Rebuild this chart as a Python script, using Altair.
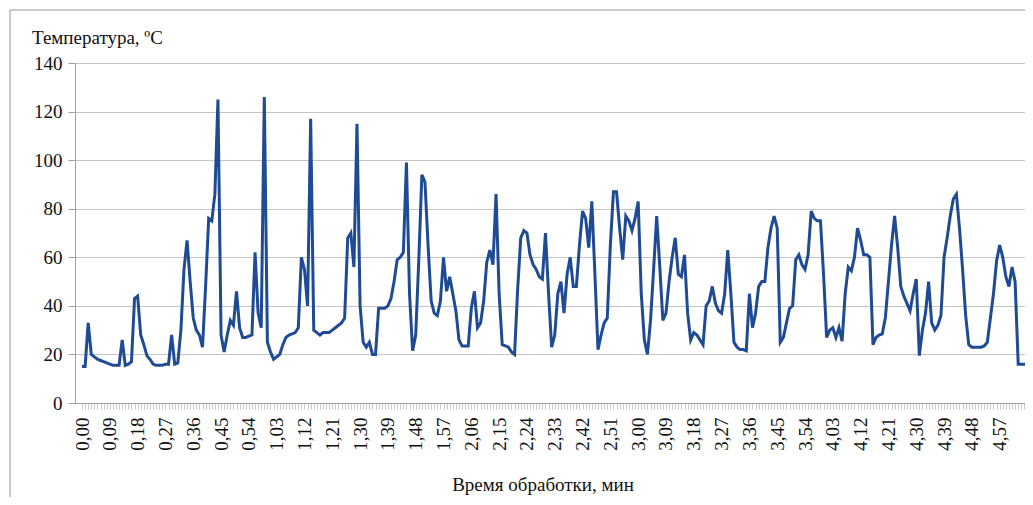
import json
import altair as alt
import pandas as pd

# ---- data (one value per second) ----
seconds = list(range(0, 307))
temperature = [
    15, 15, 33, 20, 19, 18, 17.5, 17, 16.5, 16,
    15.5, 15.5, 15.5, 26, 15.5, 16, 17, 43, 44, 28,
    24, 19.5, 18, 16, 15.5, 15.5, 15.5, 16, 16, 28,
    16, 16.5, 30, 55, 67, 50, 35, 30, 28, 23,
    48, 76, 75, 86, 125, 28, 21, 28, 34, 32,
    46, 31, 27, 27, 27.5, 28, 62, 37, 31, 126,
    25, 21, 18, 19, 20, 24, 27, 28, 28.5, 29,
    31, 60, 55, 40, 117, 30, 29, 28, 29, 29,
    29, 30, 31, 32, 33, 35, 68, 70, 56, 115,
    40, 25, 23, 25, 20, 20, 39, 39, 39, 40,
    43, 50, 59, 60, 62, 99, 45, 21.5, 28, 59,
    94, 91, 65, 42, 37, 36, 42, 60, 46, 52,
    45, 38, 26, 23.5, 23.5, 23.5, 39, 46, 31, 33,
    42, 58, 63, 57, 86, 45, 24, 23.5, 23, 21,
    20, 47, 68, 71, 70, 61, 57, 55, 52, 51,
    70, 45, 23, 28, 45, 50, 37, 53, 60, 48,
    48, 65, 79, 76, 64, 83, 53, 22, 28, 33,
    35, 65, 87, 87, 72, 59, 77, 75, 71, 76,
    83, 45, 26, 20, 34, 55, 77, 56, 34, 37,
    50, 60, 68, 53, 52, 61, 37, 26, 29, 28,
    26, 24, 40, 42, 48, 41, 38, 37, 45, 63,
    45, 25, 23, 22, 22, 21.5, 45, 31, 37, 48,
    50, 50, 64, 72, 77, 72, 25, 27, 33, 39,
    40, 59, 61, 57, 55, 61, 79, 76, 75, 75,
    53, 27, 30, 31, 27, 31, 25.5, 45, 56, 54.5,
    60, 72, 67, 61, 61, 60, 24, 27, 28, 28.5,
    35, 50, 65, 77, 64, 48, 44, 41, 38, 45,
    51, 19.5, 30, 37, 50, 33, 30, 32, 36, 60,
    68, 77, 84, 86, 72, 55, 36, 24, 23, 23,
    23, 23, 23.5, 25, 35, 45, 58.5, 65, 60, 52,
    48, 56, 50, 16, 16, 16, 16,
]

tick_seconds = list(range(0, 298, 9))
tick_labels = [
    "0,00", "0,09", "0,18", "0,27", "0,36", "0,45", "0,54", "1,03", "1,12",
    "1,21", "1,30", "1,39", "1,48", "1,57", "2,06", "2,15", "2,24", "2,33",
    "2,42", "2,51", "3,00", "3,09", "3,18", "3,27", "3,36", "3,45", "3,54",
    "4,03", "4,12", "4,21", "4,30", "4,39", "4,48", "4,57",
]
y_ticks = [0, 20, 40, 60, 80, 100, 120, 140]
y_title = "Температура, ºC"
x_title = "Время обработки, мин"

df = pd.DataFrame({"t": seconds, "temp": temperature})

FONT = "Liberation Serif"
TEXT = "#111111"
W, H = 950, 340

pos_js = json.dumps(tick_seconds)
lab_js = json.dumps(tick_labels, ensure_ascii=False)
label_expr = f"indexof({pos_js}, datum.value) >= 0 ? {lab_js}[indexof({pos_js}, datum.value)] : ''"

line = alt.Chart(df).mark_line(color="#1F4A94", strokeWidth=3, clip=False).encode(
    x=alt.X(
        "t:Q",
        scale=alt.Scale(domain=[-2.27, 305.2], nice=False, zero=False),
        axis=alt.Axis(
            values=seconds,
            labelExpr=label_expr,
            labelAngle=270,
            labelOverlap=False,
            labelFlush=False,
            labelFont=FONT,
            labelFontSize=19,
            labelColor=TEXT,
            labelPadding=8,
            tickSize=6,
            tickColor="#b0b0b0",
            tickWidth=0.7,
            domainColor="#a0a0a0",
            grid=False,
            title=None,
        ),
    ),
    y=alt.Y(
        "temp:Q",
        scale=alt.Scale(domain=[0, 140], nice=False),
        axis=alt.Axis(
            values=y_ticks,
            labelFont=FONT,
            labelFontSize=19,
            labelColor=TEXT,
            labelPadding=6,
            tickSize=7,
            tickColor="#a0a0a0",
            domainColor="#a0a0a0",
            gridColor="#c4c4c4",
            gridWidth=1,
            title=None,
        ),
    ),
)

ytitle = alt.Chart(pd.DataFrame({"label": [y_title]})).mark_text(
    font=FONT, fontSize=19, color=TEXT, align="left", baseline="middle"
).encode(text="label:N", x=alt.value(-43), y=alt.value(-25))

xtitle = alt.Chart(pd.DataFrame({"label": [x_title]})).mark_text(
    font=FONT, fontSize=19, color=TEXT, align="center", baseline="middle"
).encode(text="label:N", x=alt.value(468), y=alt.value(422))

frame_left = alt.Chart(pd.DataFrame({"a": [0]})).mark_rule(color="#b8b8b8", strokeWidth=1.5).encode(
    x=alt.value(-65), y=alt.value(-53), y2=alt.value(434)
)
frame_top = alt.Chart(pd.DataFrame({"a": [0]})).mark_rule(color="#b8b8b8", strokeWidth=1.5).encode(
    x=alt.value(-65), x2=alt.value(W), y=alt.value(-53)
)

chart = alt.layer(frame_left, frame_top, line, ytitle, xtitle).properties(
    width=W,
    height=H,
    autosize=alt.AutoSizeParams(type="none"),
    padding={"left": 67, "top": 55, "right": 0, "bottom": 94},
).configure_view(stroke=None).configure(background="white")

chart.save("out.html", embed_options={"renderer": "svg", "actions": False})
